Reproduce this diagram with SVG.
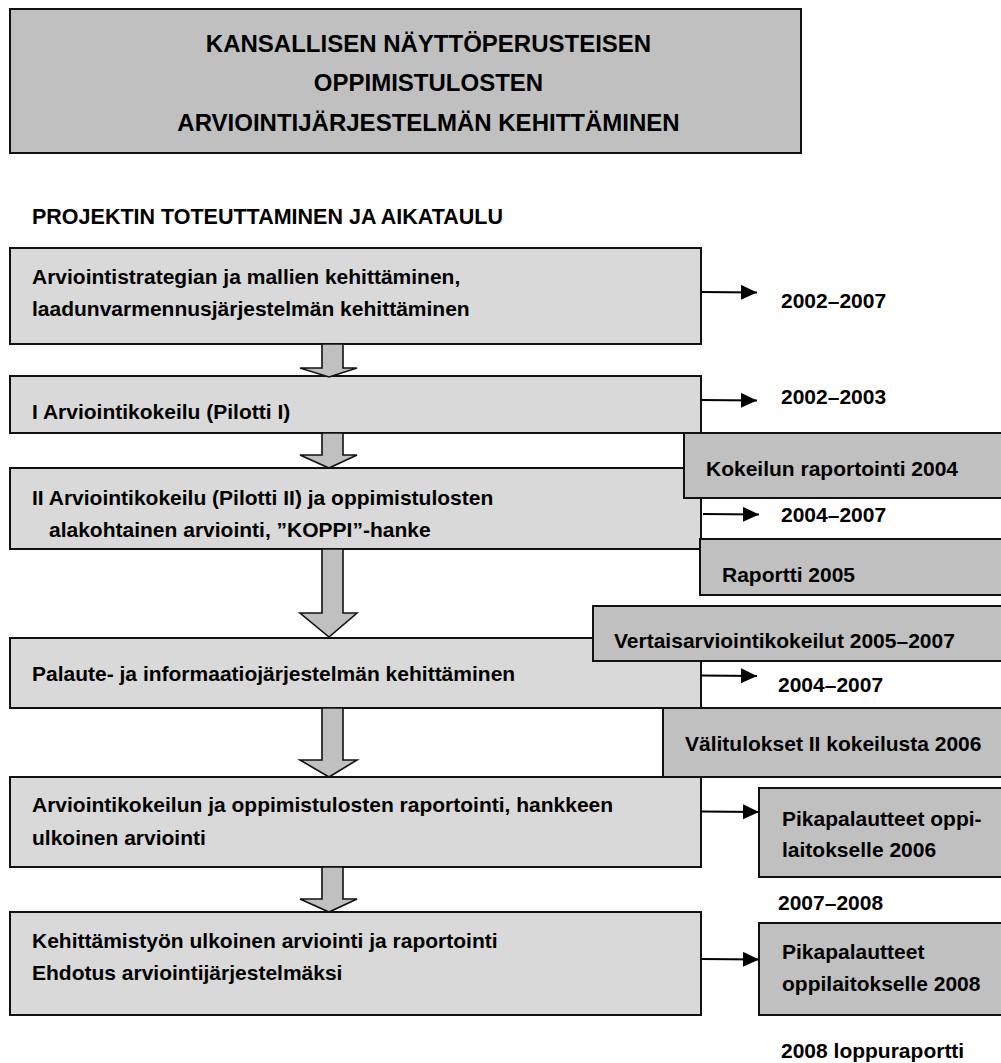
<svg xmlns="http://www.w3.org/2000/svg" width="1001" height="1063" viewBox="0 0 1001 1063">
  <style>
    text { font-family: "Liberation Sans", Arial, sans-serif; font-weight: bold; fill: #000; }
    .title { font-size: 24px; }
    .label { font-size: 21.5px; }
    .body { font-size: 21px; }
    .year { font-size: 21px; }
    .step { fill: #d9d9d9; stroke: #111; stroke-width: 2; }
    .note { fill: #c0c0c0; stroke: #111; stroke-width: 2; }
    .head { fill: #c0c0c0; stroke: #111; stroke-width: 2; }
    .flow { fill: #c0c0c0; stroke: #111; stroke-width: 1.6; stroke-linejoin: miter; }
    .link { stroke: #000; stroke-width: 2; fill: none; }
  </style>
  <defs>
    <marker id="tip" markerUnits="userSpaceOnUse" markerWidth="16" markerHeight="16" refX="16" refY="7.5" orient="auto">
      <path d="M0,0 L16,7.5 L0,15 Z" fill="#000"/>
    </marker>
  </defs>

  <rect width="1001" height="1063" fill="#fff"/>

  <!-- Heading block -->
  <g id="heading">
    <rect class="head" x="10" y="9" width="791" height="144"/>
    <text class="title" x="428.5" y="52" text-anchor="middle">KANSALLISEN NÄYTTÖPERUSTEISEN</text>
    <text class="title" x="428.5" y="91" text-anchor="middle">OPPIMISTULOSTEN</text>
    <text class="title" x="428.5" y="130.5" text-anchor="middle">ARVIOINTIJÄRJESTELMÄN KEHITTÄMINEN</text>
  </g>

  <g id="section-label">
    <text class="label" x="32" y="224">PROJEKTIN TOTEUTTAMINEN JA AIKATAULU</text>
  </g>

  <!-- Project phases -->
  <g id="phase-1">
    <rect class="step" x="10" y="248" width="691" height="96"/>
    <text class="body" x="32" y="284">Arviointistrategian ja mallien kehittäminen,</text>
    <text class="body" x="32" y="316">laadunvarmennusjärjestelmän kehittäminen</text>
  </g>
  <g id="phase-2">
    <rect class="step" x="10" y="376" width="691" height="57"/>
    <text class="body" x="32" y="419">I Arviointikokeilu (Pilotti I)</text>
  </g>
  <g id="phase-3">
    <rect class="step" x="10" y="468" width="691" height="81"/>
    <text class="body" x="32" y="505">II Arviointikokeilu (Pilotti II) ja oppimistulosten</text>
    <text class="body" x="49" y="537">alakohtainen arviointi, ”KOPPI”-hanke</text>
  </g>
  <g id="phase-4">
    <rect class="step" x="10" y="638" width="691" height="70"/>
    <text class="body" x="32" y="680.5">Palaute- ja informaatiojärjestelmän kehittäminen</text>
  </g>
  <g id="phase-5">
    <rect class="step" x="10" y="777" width="691" height="90"/>
    <text class="body" x="32" y="812">Arviointikokeilun ja oppimistulosten raportointi, hankkeen</text>
    <text class="body" x="32" y="845">ulkoinen arviointi</text>
  </g>
  <g id="phase-6">
    <rect class="step" x="10" y="912" width="691" height="103"/>
    <text class="body" x="32" y="948">Kehittämistyön ulkoinen arviointi ja raportointi</text>
    <text class="body" x="32" y="980">Ehdotus arviointijärjestelmäksi</text>
  </g>

  <!-- Reports and side results -->
  <g id="report-2004">
    <rect class="note" x="684" y="433" width="330" height="65"/>
    <text class="body" x="706" y="476">Kokeilun raportointi 2004</text>
  </g>
  <g id="report-2005">
    <rect class="note" x="700" y="539" width="314" height="56"/>
    <text class="body" x="722" y="582">Raportti 2005</text>
  </g>
  <g id="peer-review">
    <rect class="note" x="593" y="606" width="421" height="55"/>
    <text class="body" x="614" y="648">Vertaisarviointikokeilut 2005–2007</text>
  </g>
  <g id="interim-2006">
    <rect class="note" x="663" y="708" width="351" height="69"/>
    <text class="body" x="685" y="751">Välitulokset II kokeilusta 2006</text>
  </g>
  <g id="feedback-2006">
    <rect class="note" x="759" y="788" width="255" height="89"/>
    <text class="body" x="782" y="826">Pikapalautteet oppi-</text>
    <text class="body" x="782" y="857">laitokselle 2006</text>
  </g>
  <g id="feedback-2008">
    <rect class="note" x="759" y="923" width="255" height="92"/>
    <text class="body" x="782" y="959">Pikapalautteet</text>
    <text class="body" x="782" y="991">oppilaitokselle 2008</text>
  </g>

  <!-- Timeline labels -->
  <g id="years">
    <text class="year" x="781" y="308">2002–2007</text>
    <text class="year" x="781" y="404">2002–2003</text>
    <text class="year" x="781" y="522">2004–2007</text>
    <text class="year" x="778" y="692">2004–2007</text>
    <text class="year" x="778" y="910">2007–2008</text>
    <text class="year" x="781" y="1058">2008 loppuraportti</text>
  </g>

  <!-- Connectors -->
  <g id="connectors">
    <!-- block arrows between phases -->
    <polygon class="flow" points="322,344 343,344 343,368 357,368 329,377 300,368 322,368"/>
    <polygon class="flow" points="322,433 343,433 343,455 357,455 329,468 300,455 322,455"/>
    <polygon class="flow" points="322,549 343,549 343,613 357,613 329,637 300,613 322,613"/>
    <polygon class="flow" points="322,708 343,708 343,760 357,760 329,777 300,760 322,760"/>
    <polygon class="flow" points="322,867 343,867 343,899 357,899 329,912 300,899 322,899"/>
    <!-- timeline pointers -->
    <line class="link" x1="701" y1="292" x2="757" y2="292.5" marker-end="url(#tip)"/>
    <line class="link" x1="701" y1="400" x2="757" y2="400.5" marker-end="url(#tip)"/>
    <line class="link" x1="703" y1="514" x2="759" y2="514.5" marker-end="url(#tip)"/>
    <line class="link" x1="701" y1="675.5" x2="757" y2="676" marker-end="url(#tip)"/>
    <line class="link" x1="701" y1="811.5" x2="759" y2="812" marker-end="url(#tip)"/>
    <line class="link" x1="701" y1="959" x2="759" y2="959.5" marker-end="url(#tip)"/>
  </g>
</svg>
